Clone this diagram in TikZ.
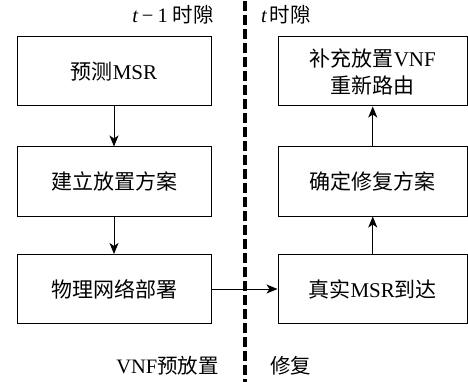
\documentclass[tikz,border=0pt]{standalone}
\usepackage{fontspec}
\setmainfont{Liberation Serif}
\newfontfamily\cjk{Noto Sans CJK SC}
\usetikzlibrary{arrows.meta}
\tikzset{
  stepbox/.style={draw, line width=1pt, minimum width=194pt, minimum height=69pt,
    inner sep=0pt, align=center, font=\fontsize{21}{27}\selectfont},
  rbox/.style={stepbox, minimum width=189.5pt},
  flow/.style={draw, line width=1pt, -{Stealth[length=11pt,width=9pt,inset=3pt]}},
  lbl/.style={inner sep=0pt, font=\fontsize{20.5}{23}\selectfont},
  divider/.style={line width=4pt, dash pattern=on 10pt off 4pt}
}
\begin{document}
\begin{tikzpicture}[x=1pt,y=1pt]
  \useasboundingbox (0,0) rectangle (468,-382);

  % time-slot divider
  \draw[divider] (245,-1) -- (245,-382);

  % slot t-1: VNF pre-placement
  \node[stepbox] (pred)  at (114,-71.5)  {{\cjk 预测}MSR};
  \node[stepbox] (plan)  at (114,-181.5) {\cjk 建立放置方案};
  \node[stepbox] (phys)  at (114,-289)   {\cjk 物理网络部署};

  % slot t: repair
  \node[rbox] (real)   at (372.75,-289)   {{\cjk 真实}MSR{\cjk 到达}};
  \node[rbox] (fix)    at (372.75,-181.5) {\cjk 确定修复方案};
  \node[rbox] (supp)   at (372.75,-71.5)  {{\cjk 补充放置}VNF\\{\cjk 重新路由}};

  \draw[flow] (pred) -- (plan);
  \draw[flow] (plan) -- (phys);
  \draw[flow] (phys) -- (real);
  \draw[flow] (real) -- (fix);
  \draw[flow] (fix) -- (supp);

  % slot labels
  \node[lbl, anchor=east] (tprev) at (214,-15)
    {{\itshape t}\hspace{4pt}−\hspace{4pt}1\hspace{5pt}{\cjk 时隙}};
  \node[lbl, anchor=west] (tcur)  at (261,-15) {{\itshape t}\hspace{3pt}{\cjk 时隙}};
  \node[lbl, anchor=east] (pre)   at (219,-366) {VNF{\cjk 预放置}};
  \node[lbl, anchor=west] (rep)   at (270,-366) {\cjk 修复};
\end{tikzpicture}
\end{document}
